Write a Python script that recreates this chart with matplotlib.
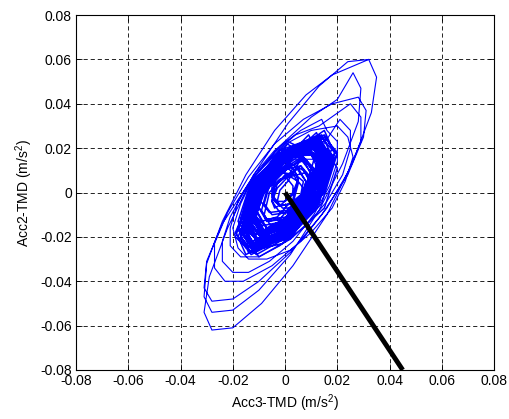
import matplotlib
matplotlib.use("Agg")
import matplotlib.pyplot as plt
import numpy as np

plt.rcParams.update({'font.family': ['Liberation Sans', 'DejaVu Sans'],
                     'font.size': 10,
                     'mathtext.default': 'regular'})

# trajectory, in 1e-3 m/s^2 (Acc3 -> x, Acc2 -> y)
acc3_small = [
    5, 8, 6, 1, -5, -8, -6, -1,
    4, 7, 6, 2, -2, -5, -4, 0,
    5, 8, 6, 0, -7, -10, -8, -2,
    6, 9, 8, 3, -2, -5, -4, 1,
    3, 5, 3, -2, -7, -9, -7, -2,
    7, 11, 8, 1, -7, -11, -8, -1,
    7, 10, 8, 2, -5, -8, -6, 0,
    1, 3, 3, 0, -3, -5, -5, -2,
    8, 11, 9, 4, -2, -5, -3, 2,
    3, 5, 3, -3, -9, -11, -9, -3,
    8, 12, 9, 1, -8, -12, -9, -1,
    11, 15, 12, 3, -7, -11, -8, 1,
    6, 10, 7, -1, -10, -14, -11, -3,
    11, 16, 12, 2, -9, -14, -10, 0,
    4, 5, 3, -1, -4, -5, -3, 1,
    6, 10, 7, 0, -8, -12, -9, -2,
    5, 7, 6, 3, -1, -3, -2, 1,
    6, 10, 8, 1, -6, -10, -8, -1,
]
acc2_small = [
    10, 5, -3, -9, -10, -5, 3, 9,
    8, 5, -1, -5, -6, -3, 3, 7,
    11, 5, -5, -12, -13, -7, 3, 10,
    12, 8, 1, -5, -6, -2, 5, 11,
    9, 4, -5, -12, -13, -8, 1, 8,
    16, 9, -2, -11, -12, -5, 6, 15,
    10, 4, -6, -14, -16, -10, 0, 8,
    6, 3, -1, -4, -4, -1, 3, 6,
    9, 4, -4, -9, -9, -4, 4, 9,
    11, 6, -3, -11, -13, -8, 1, 9,
    15, 7, -6, -16, -17, -9, 4, 14,
    20, 12, -2, -14, -16, -8, 6, 18,
    17, 8, -5, -16, -17, -9, 5, 16,
    17, 8, -7, -19, -21, -12, 3, 15,
    9, 6, 0, -5, -7, -4, 2, 7,
    12, 5, -6, -16, -18, -11, 0, 10,
    5, 2, -3, -7, -7, -4, 1, 5,
    15, 9, 0, -8, -9, -3, 6, 14,
]
acc3_fill = [
    12, 17, 13, 2, -10, -15, -11, 0,
    8, 13, 10, 0, -10, -15, -12, -2,
    12, 16, 11, -1, -12, -16, -11, 1,
    12, 18, 14, 3, -8, -14, -10, 1,
    8, 12, 8, -2, -12, -16, -12, -2,
    14, 19, 14, 1, -12, -17, -12, 1,
    10, 16, 13, 2, -10, -16, -13, -2,
    10, 15, 11, 0, -12, -17, -13, -2,
    11, 16, 13, 3, -7, -12, -9, 1,
    12, 16, 10, -1, -12, -16, -10, 1,
    7, 12, 9, 0, -9, -14, -11, -2,
    14, 20, 15, 2, -12, -18, -13, 0,
]
acc2_fill = [
    22, 12, -5, -19, -22, -12, 5, 19,
    21, 12, -3, -16, -19, -10, 5, 18,
    22, 11, -8, -23, -26, -15, 4, 19,
    23, 15, -1, -15, -19, -11, 5, 19,
    22, 12, -6, -21, -24, -14, 4, 19,
    26, 14, -5, -21, -24, -12, 7, 23,
    18, 10, -4, -16, -18, -10, 4, 16,
    19, 9, -7, -20, -23, -13, 3, 16,
    18, 10, -4, -17, -20, -12, 2, 15,
    27, 17, -3, -20, -25, -15, 5, 22,
    15, 8, -3, -13, -15, -8, 3, 13,
    22, 11, -7, -21, -24, -13, 5, 19,
]
acc3_core = [
    12, 17, 12, 0, -12, -17, -12, 0,
    11, 16, 12, 2, -9, -14, -10, 0,
    12, 15, 9, -3, -14, -17, -11, 1,
    13, 19, 15, 3, -9, -15, -11, 1,
    9, 15, 12, 2, -9, -15, -12, -2,
    10, 14, 9, -3, -14, -18, -13, -1,
    15, 19, 13, 0, -13, -17, -11, 2,
    8, 13, 10, 1, -8, -13, -10, -1,
    13, 16, 11, 1, -9, -12, -7, 3,
    11, 17, 12, 0, -13, -19, -14, -2,
    15, 18, 11, -3, -15, -18, -11, 3,
    10, 16, 13, 3, -8, -14, -11, -1,
    9, 13, 8, -3, -13, -17, -12, -1,
    13, 18, 14, 4, -7, -12, -8, 2,
    13, 18, 13, 0, -13, -18, -13, 0,
    9, 12, 8, -2, -11, -14, -10, 0,
    13, 19, 15, 2, -11, -17, -13, 0,
    10, 14, 10, 0, -10, -14, -10, 0,
    16, 20, 13, 0, -12, -16, -9, 4,
    8, 14, 11, 1, -10, -16, -13, -3,
    12, 16, 10, -1, -12, -16, -10, 1,
    12, 17, 13, 2, -10, -15, -11, 0,
    11, 15, 9, -3, -15, -19, -13, -1,
    7, 11, 9, 1, -7, -11, -9, -1,
    15, 20, 14, 1, -11, -16, -10, 3,
    9, 15, 12, 1, -11, -17, -14, -3,
    13, 17, 11, 0, -11, -15, -9, 2,
    11, 16, 11, 0, -11, -16, -11, 0,
]
acc2_core = [
    24, 17, 0, -17, -24, -17, 0, 17,
    24, 18, 2, -14, -20, -14, 2, 18,
    25, 17, -1, -19, -27, -19, -1, 17,
    21, 15, 1, -13, -19, -13, 1, 15,
    19, 13, -2, -17, -23, -17, -2, 13,
    23, 16, 0, -16, -23, -16, 0, 16,
    26, 18, -1, -20, -28, -20, -1, 18,
    19, 14, 1, -12, -17, -12, 1, 14,
    25, 19, 3, -13, -19, -13, 3, 19,
    21, 14, -3, -20, -27, -20, -3, 14,
    28, 20, 0, -20, -28, -20, 0, 20,
    20, 14, 1, -12, -18, -12, 1, 14,
    23, 16, -2, -20, -27, -20, -2, 16,
    23, 17, 2, -13, -19, -13, 2, 17,
    21, 15, -1, -17, -23, -17, -1, 15,
    26, 19, 2, -15, -22, -15, 2, 19,
    26, 18, 0, -18, -26, -18, 0, 18,
    17, 11, -3, -17, -23, -17, -3, 11,
    24, 17, -1, -19, -26, -19, -1, 17,
    23, 17, 1, -15, -21, -15, 1, 17,
    23, 17, 2, -13, -19, -13, 2, 17,
    25, 17, -2, -21, -29, -21, -2, 17,
    23, 16, -1, -18, -25, -18, -1, 16,
    16, 11, 0, -11, -16, -11, 0, 11,
    25, 18, 2, -14, -21, -14, 2, 18,
    24, 16, -2, -20, -28, -20, -2, 16,
    21, 15, 1, -13, -19, -13, 1, 15,
    22, 15, -1, -17, -24, -17, -1, 15,
]
acc3_mid = [
    11, 21, 25, 25, 22, 16, 8, -2, -10, -17, -21, -21, -18, -12, -4, 6, 14,
    16, 20, 20, 17, 11, 3, -6, -14, -20, -24, -24, -21, -15, -7, 2, 10,
    20, 24, 26, 23, 18, 10, 2, -7, -14, -18, -20, -17, -12, -4, 4, 13,
]
acc2_mid = [
    15, 33, 28, 20, 8, -4, -15, -24, -29, -29, -24, -16, -4, 8, 19, 28, 33,
    28, 23, 14, 3, -10, -22, -31, -36, -36, -31, -22, -11, 2, 14, 23, 28,
    30, 25, 16, 5, -7, -18, -26, -30, -30, -25, -16, -5, 7, 18, 26, 30,
]
acc3_outer = [
    25, 29, 29, 24, 16, 6, -5, -16, -23, -27, -27, -22, -14, -4, 7, 18,
    28, 31, 30, 24, 14, 2, -10, -20, -28, -31, -30, -24, -14, -2, 10, 20,
    26, 29, 28, 22, 13, 2, -10, -20, -28, -31, -30, -24, -15, -4, 8, 18,
    32, 35, 33, 26, 16, 3, -9, -20, -28, -31, -29, -22, -12, 1, 13, 24, 32,
]
acc2_outer = [
    40, 34, 23, 9, -7, -22, -33, -40, -40, -34, -23, -9, 7, 22, 33, 40,
    43, 37, 25, 8, -10, -27, -40, -48, -49, -43, -31, -14, 4, 21, 34, 42,
    54, 47, 32, 13, -8, -28, -44, -53, -54, -47, -32, -13, 8, 28, 44, 53,
    60, 52, 36, 14, -10, -33, -50, -61, -62, -54, -38, -16, 8, 31, 48, 59, 60,
]

# principal direction line
dir_x = [0, 0.045]
dir_y = [0, -0.08]

ticks = [-0.08, -0.06, -0.04, -0.02, 0, 0.02, 0.04, 0.06, 0.08]
tick_labels = ['-0.08', '-0.06', '-0.04', '-0.02', '0', '0.02', '0.04', '0.06', '0.08']

# dense inner part of the record and the larger outer swings
inner_x = np.concatenate([acc3_small, acc3_fill, acc3_core]) / 1000.0
inner_y = np.concatenate([acc2_small, acc2_fill, acc2_core]) / 1000.0
outer_x = np.concatenate([acc3_core[-1:], acc3_mid, acc3_outer]) / 1000.0
outer_y = np.concatenate([acc2_core[-1:], acc2_mid, acc2_outer]) / 1000.0

fig = plt.figure(figsize=(5.1, 4.19), dpi=100)
ax = fig.add_axes([0.149, 0.117, 0.82, 0.847])

ax.plot(inner_x, inner_y, color=(0, 0, 1), lw=1.1, solid_joinstyle='round')
ax.plot(outer_x, outer_y, color=(0, 0, 1), lw=0.8, solid_joinstyle='round')
ax.plot(dir_x, dir_y, color='k', lw=3.5, solid_capstyle='butt')

ax.set_xlim(-0.08, 0.08)
ax.set_ylim(-0.08, 0.08)
ax.set_xticks(ticks)
ax.set_xticklabels(tick_labels)
ax.set_yticks(ticks)
ax.set_yticklabels(tick_labels)
ax.grid(True, color='k', lw=0.6, linestyle=(0, (5, 3.5)))
ax.tick_params(direction='in', top=True, right=True, length=4, width=0.6, pad=3)
for s in ax.spines.values():
    s.set_linewidth(0.8)

ax.set_xlabel('Acc3-TMD (m/s$^2$)', labelpad=3)
ax.set_ylabel('Acc2-TMD (m/s$^2$)', labelpad=4)

fig.savefig('out.png', dpi=100)
